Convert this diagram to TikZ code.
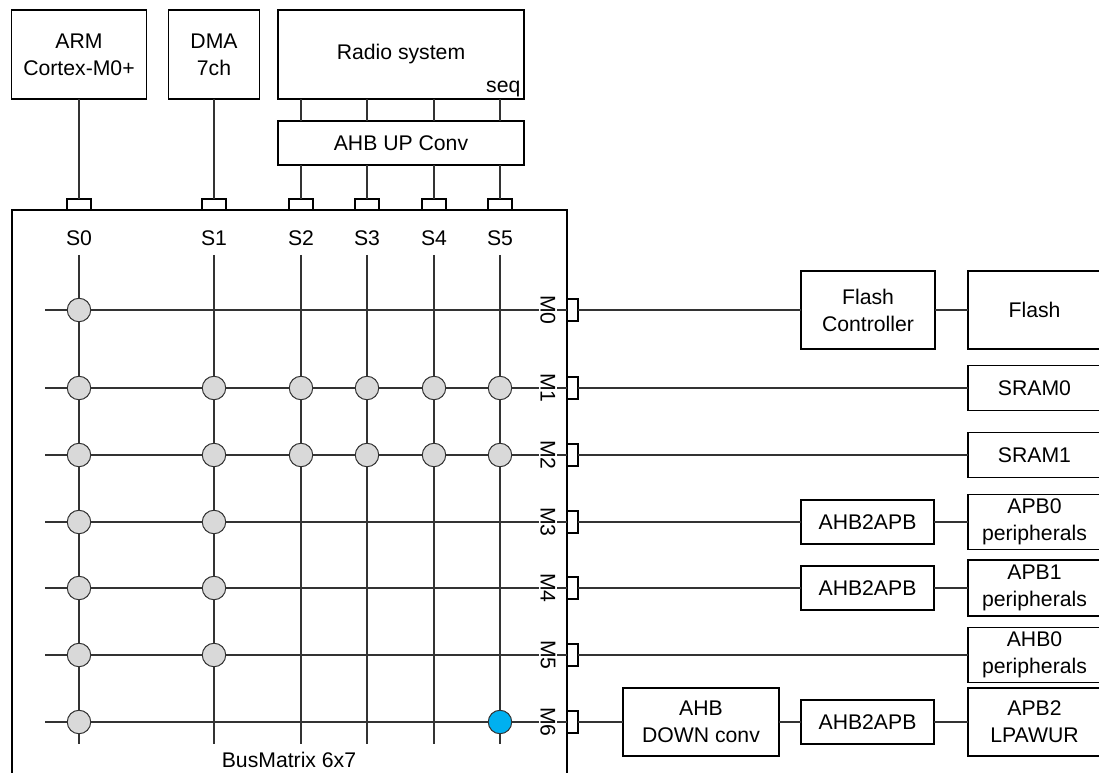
\documentclass[tikz,border=0pt]{standalone}
\usepackage{fontspec}
\setmainfont{Liberation Sans}
\usetikzlibrary{calc}

\definecolor{xgray}{HTML}{D9D9D9}
\definecolor{xblue}{HTML}{00B0F0}
\definecolor{wire}{HTML}{333333}

\begin{document}
\begin{tikzpicture}[x=0.75pt, y=-0.75pt,
        font=\fontsize{15.9}{20.3}\selectfont,
        blk/.style={draw, line width=1.35pt, align=center, inner sep=0pt, outer sep=0pt},
        bus/.style={draw=wire, line width=0.8pt},
        sport/.style={draw, line width=1.35pt, fill=white, inner sep=0pt, outer sep=0pt,
            minimum width=18pt, minimum height=8.25pt},
        mport/.style={draw, line width=1.35pt, fill=white, inner sep=0pt, outer sep=0pt,
            minimum width=8.25pt, minimum height=16.5pt},
        xpt/.style={circle, draw=wire, line width=0.75pt, fill=xgray,
            minimum size=17.6pt, inner sep=0pt}
    ]
        \useasboundingbox (0, 0) rectangle (1099, 773);
        \clip (0, 0) rectangle (1099, 773);

        % masters
        \node[blk, minimum width=101.25pt, minimum height=66.75pt] (arm) at (79, 54.5) {ARM\\Cortex-M0+};
        \node[blk, minimum width=68.25pt, minimum height=66.75pt] (dma) at (214, 54.5) {DMA\\7ch};
        \node[blk, minimum width=184.5pt, minimum height=66.75pt] (radio) at (401, 54.5) {Radio system};
        \node[anchor=east, inner sep=1pt] (seq) at (522, 89) {seq};
        \node[blk, minimum width=184.5pt, minimum height=33pt] (ahbup) at (401, 143) {AHB UP Conv};

        % bus matrix frame
        \draw[line width=1.35pt] (12, 790) |- (567, 210) -- (567, 790);
        \node (bmlabel) at (289, 760) {BusMatrix 6x7};

        % slave ports (columns)
        \foreach \n/\x in {0/79, 1/214, 2/301, 3/367, 4/434, 5/500} {
            \node[sport, anchor=south] (s\n) at (\x, 210) {};
            \node (sl\n) at (\x, 238) {S\n};
            \coordinate (st\n) at (\x, 255);
            \coordinate (sb\n) at (\x, 744);
            \draw[bus] (st\n) -- (sb\n);
        }
        \draw[bus] (arm) -- (s0);
        \draw[bus] (dma) -- (s1);
        \foreach \n in {2, 3, 4, 5} {
            \draw[bus] (radio.south -| s\n) -- (ahbup.north -| s\n);
            \draw[bus] (ahbup.south -| s\n) -- (s\n);
        }

        % master ports (rows)
        \foreach \n/\y in {0/310, 1/388, 2/455, 3/522, 4/588, 5/655, 6/722} {
            \coordinate (ml\n) at (45, \y);
            \node[mport, anchor=west] (m\n) at (567, \y) {};
            \draw[bus] (ml\n) -- (m\n.west);
            \node[rotate=-90, fill=white, inner sep=1pt] (mt\n) at (548, \y) {M\n};
        }

        % crosspoints
        \foreach \r/\c in {0/0, 1/0, 1/1, 1/2, 1/3, 1/4, 1/5, 2/0, 2/1, 2/2, 2/3, 2/4, 2/5,
                3/0, 3/1, 4/0, 4/1, 5/0, 5/1, 6/0}
            \node[xpt] (x\r\c) at (sb\c |- ml\r) {};
        \node[xpt, fill=xblue] (x65) at (sb5 |- ml6) {};

        % slaves
        \node[blk, minimum width=100.5pt, minimum height=58.5pt] (fctl) at (868, 310) {Flash\\Controller};
        \node[blk, minimum width=99.75pt, minimum height=58.5pt] (flash) at (1034.5, 310) {Flash};
        \node[blk, minimum width=99.75pt, minimum height=33.75pt] (sram0) at (1034.5, 388) {SRAM0};
        \node[blk, minimum width=99.75pt, minimum height=33.75pt] (sram1) at (1034.5, 455) {SRAM1};
        \node[blk, minimum width=99.75pt, minimum height=33pt] (apbbr0) at (867.5, 522) {AHB2APB};
        \node[blk, minimum width=99.75pt, minimum height=41.25pt] (apb0) at (1034.5, 522) {APB0\\peripherals};
        \node[blk, minimum width=99.75pt, minimum height=33pt] (apbbr1) at (867.5, 588) {AHB2APB};
        \node[blk, minimum width=99.75pt, minimum height=42pt] (apb1) at (1034.5, 588) {APB1\\peripherals};
        \node[blk, minimum width=99.75pt, minimum height=41.25pt] (ahb0) at (1034.5, 655) {AHB0\\peripherals};
        \node[blk, minimum width=117pt, minimum height=51pt] (ahbdown) at (701, 722) {AHB\\DOWN conv};
        \node[blk, minimum width=99.75pt, minimum height=33pt] (apbbr2) at (867.5, 722) {AHB2APB};
        \node[blk, minimum width=99.75pt, minimum height=51pt] (apb2) at (1034.5, 722) {APB2\\LPAWUR};

        \draw[bus] (m0.east) -- (fctl);
        \draw[bus] (fctl) -- (flash);
        \draw[bus] (m1.east) -- (sram0);
        \draw[bus] (m2.east) -- (sram1);
        \draw[bus] (m3.east) -- (apbbr0);
        \draw[bus] (apbbr0) -- (apb0);
        \draw[bus] (m4.east) -- (apbbr1);
        \draw[bus] (apbbr1) -- (apb1);
        \draw[bus] (m5.east) -- (ahb0);
        \draw[bus] (m6.east) -- (ahbdown);
        \draw[bus] (ahbdown) -- (apbbr2);
        \draw[bus] (apbbr2) -- (apb2);
    \end{tikzpicture}
\end{document}
